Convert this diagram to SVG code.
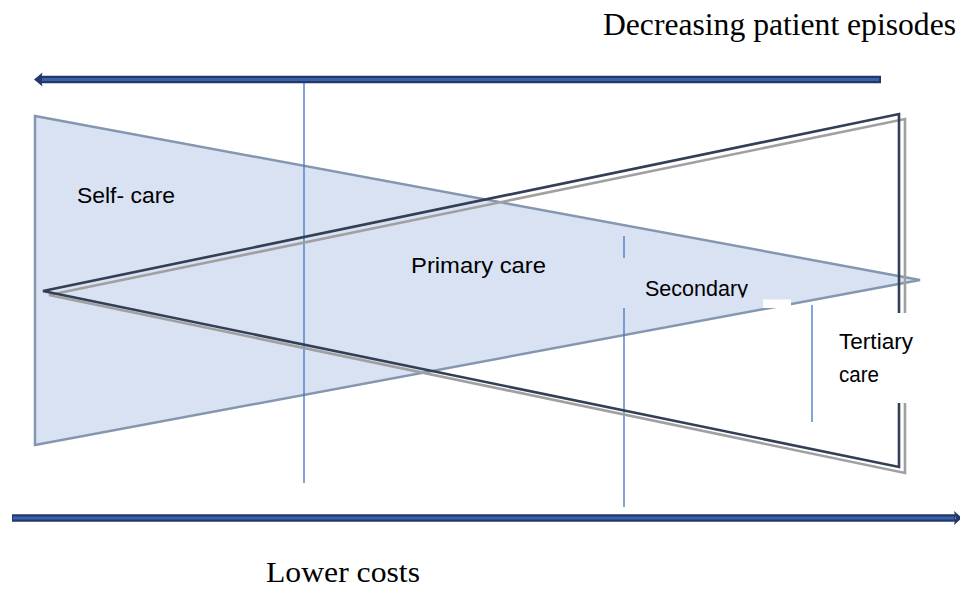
<svg xmlns="http://www.w3.org/2000/svg" width="960" height="591" viewBox="0 0 960 591">
<defs>
<style>
.tri{fill:#D9E2F3;stroke:#8497B0;stroke-width:2.5;stroke-linejoin:miter}
.dk{fill:none;stroke:#323F55;stroke-width:2.6;stroke-linejoin:miter}
.gr{fill:none;stroke:#A0A0A0;stroke-width:2.6;stroke-linejoin:miter}
.vl{stroke:#4472C4;stroke-width:1.3;fill:none}
.serif{font-family:"Liberation Serif","Times New Roman",serif;fill:#000}
.sans{font-family:"Liberation Sans",Arial,sans-serif;fill:#000}
.shaftO{stroke:#22386A;stroke-width:7.5;fill:none}
.shaftI{stroke:#3A62A8;stroke-width:3;fill:none}
</style>
<clipPath id="secClip"><rect x="600" y="250" width="200" height="47.5"/></clipPath>
</defs>
<rect width="960" height="591" fill="#fff"/>

<g id="self-care-triangle">
<polygon class="tri" points="35,116 920,280 35,445"/>
</g>

<g id="connectors">
<line class="vl" x1="304" y1="80" x2="304" y2="483"/>
<line class="vl" x1="624" y1="236" x2="624" y2="258"/>
<line class="vl" x1="624" y1="308" x2="624" y2="507"/>
<line class="vl" x1="812" y1="305" x2="812" y2="422"/>
<g id="top-arrow">
<line class="shaftO" x1="41" y1="79.5" x2="881" y2="79.5"/>
<line class="shaftI" x1="42" y1="79.5" x2="879" y2="79.5"/>
<polygon points="34,79.5 42.5,72.5 41,79.5 42.5,86.5" fill="#22386A"/>
</g>
<g id="bottom-arrow">
<line class="shaftO" x1="12" y1="518" x2="955" y2="518"/>
<line class="shaftI" x1="13" y1="518" x2="954" y2="518"/>
<polygon points="962,518 954,511 955.5,518 954,525" fill="#22386A"/>
</g>
</g>

<g id="specialist-shape">
<polygon class="gr" points="49,295 905,119 905,473"/>
<polygon class="dk" points="43,291 899,114 899,467"/>
</g>

<rect x="824" y="313" width="93" height="90" fill="#fff"/>
<rect x="763" y="299.5" width="28" height="8.5" fill="#fff"/>

<g id="label-decreasing"><text class="serif" x="603" y="35" font-size="31" textLength="353" lengthAdjust="spacingAndGlyphs">Decreasing patient episodes</text></g>
<g id="label-lower-costs"><text class="serif" x="266" y="582" font-size="29" textLength="154" lengthAdjust="spacingAndGlyphs">Lower costs</text></g>
<g id="label-self-care"><text class="sans" x="77" y="203" font-size="22" textLength="98" lengthAdjust="spacingAndGlyphs">Self- care</text></g>
<g id="label-primary"><text class="sans" x="411" y="273" font-size="22" textLength="135" lengthAdjust="spacingAndGlyphs">Primary care</text></g>
<g id="label-secondary"><text class="sans" x="645" y="296" font-size="21.5" textLength="103" lengthAdjust="spacingAndGlyphs" clip-path="url(#secClip)">Secondary</text></g>
<g id="label-tertiary"><text class="sans" x="839" y="349" font-size="21.5" textLength="74" lengthAdjust="spacingAndGlyphs">Tertiary</text><text class="sans" x="839" y="382" font-size="21.5" textLength="40" lengthAdjust="spacingAndGlyphs">care</text></g>
</svg>
